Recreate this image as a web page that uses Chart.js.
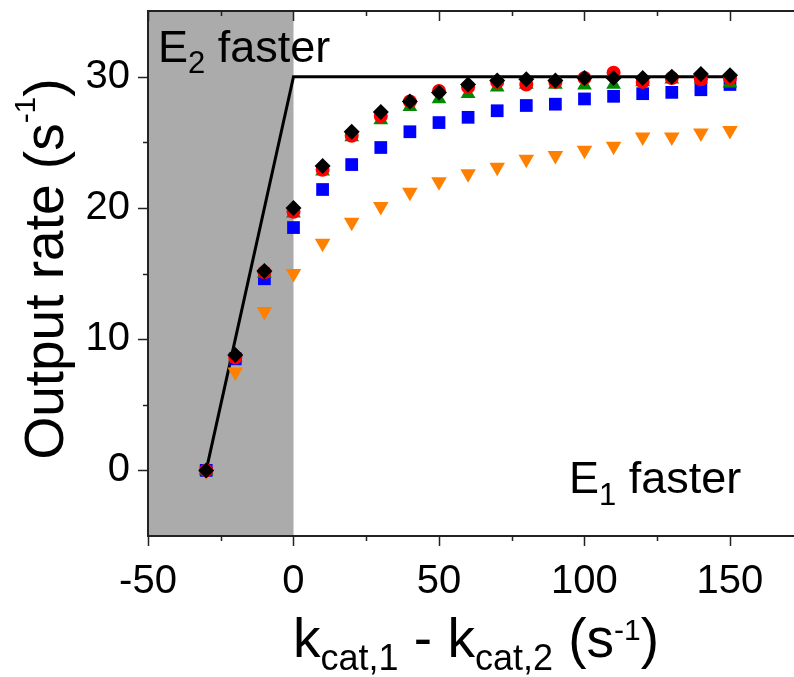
<!DOCTYPE html>
<html lang="en">
<head>
  <meta charset="UTF-8" />
  <title>Output rate vs kcat difference</title>
  <script src="https://cdn.jsdelivr.net/npm/chart.js"></script>
  <style>
    body { margin: 0; background: white; }
    #wrap { width: 794px; height: 677px; position: relative; }
  </style>
</head>
<body>
  <div id="wrap"><canvas id="chart"></canvas></div>

  <script>
    // x values: kcat,1 - kcat,2 (s^-1)
    const kDiff = [-30, -20, -10, 0, 10, 20, 30, 40, 50, 60, 70, 80, 90, 100, 110, 120, 130, 140, 150];

    // output rate (s^-1) for each series
    const rateRed    = [0, 8.6, 15.1, 19.7, 22.9, 25.5, 27.0, 28.1, 28.9, 29.2, 29.6, 29.4, 29.6, 29.9, 30.3, 29.6, 29.9, 29.8, 29.9];
    const rateGreen  = [0, 8.6, 15.0, 19.6, 22.8, 25.4, 26.7, 27.7, 28.3, 28.7, 29.2, 29.4, 29.4, 29.35, 29.4, 29.6, 29.8, 29.8, 29.5];
    const rateBlue   = [0, 8.5, 14.6, 18.5, 21.4, 23.3, 24.6, 25.8, 26.5, 26.9, 27.4, 27.8, 27.9, 28.3, 28.5, 28.7, 28.8, 29.0, 29.4];
    const rateOrange = [0, 7.5, 12.1, 15.0, 17.3, 18.9, 20.1, 21.2, 22.0, 22.6, 23.1, 23.7, 24.0, 24.4, 24.7, 25.4, 25.4, 25.7, 25.9];
    const rateBlack  = [0, 8.8, 15.2, 20.0, 23.2, 25.8, 27.3, 28.1, 28.8, 29.4, 29.7, 29.8, 29.7, 29.9, 29.9, 29.9, 30.0, 30.2, 30.1];

    // theoretical limit line
    const limitX = [-30, 0, 150];
    const limitY = [0, 30, 30];

    // shaded "E2 faster" region
    const shadeFrom = -50, shadeTo = 0;

    const xTicks = [-50, 0, 50, 100, 150];
    const xMinor = [-25, 25, 75, 125];
    const yTicks = [0, 10, 20, 30];
    const yMinor = [5, 15, 25];

    const FONT = '"Liberation Sans", Arial, sans-serif';

    function pts(ys) { return kDiff.map((k, i) => ({ x: k, y: ys[i] })); }

    // draws text pieces [text, size, dy] one after another, returns width
    function richText(ctx, parts, x, y, measureOnly) {
      let cx = x;
      parts.forEach(p => {
        ctx.font = p[1] + 'px ' + FONT;
        if (!measureOnly) ctx.fillText(p[0], cx, y + (p[2] || 0));
        cx += ctx.measureText(p[0]).width;
      });
      return cx - x;
    }

    const decor = {
      id: 'decor',
      beforeDatasetsDraw(chart) {
        const { ctx, chartArea: a, scales: { x } } = chart;
        const x0 = x.getPixelForValue(shadeFrom), x1 = x.getPixelForValue(shadeTo);
        ctx.save();
        ctx.fillStyle = '#ababab';
        ctx.fillRect(x0, a.top, x1 - x0, a.bottom - a.top);
        ctx.restore();
      },
      afterDatasetsDraw(chart) {
        const { ctx, chartArea: a, scales: { x, y } } = chart;
        ctx.save();
        ctx.strokeStyle = '#222';
        ctx.lineWidth = 2;
        ctx.beginPath();
        // frame: left, bottom, top
        ctx.moveTo(a.left, a.top); ctx.lineTo(a.left, a.bottom);
        ctx.moveTo(a.left - 1, a.bottom); ctx.lineTo(a.right, a.bottom);
        ctx.moveTo(a.left - 1, a.top); ctx.lineTo(a.right, a.top);
        ctx.stroke();

        ctx.lineWidth = 1.5;
        ctx.beginPath();
        xTicks.forEach(v => {
          const px = Math.round(x.getPixelForValue(v)) + 0.5;
          ctx.moveTo(px, a.bottom); ctx.lineTo(px, a.bottom + 10);
          ctx.moveTo(px, a.top); ctx.lineTo(px, a.top + 10);
        });
        xMinor.forEach(v => {
          const px = Math.round(x.getPixelForValue(v)) + 0.5;
          ctx.moveTo(px, a.bottom); ctx.lineTo(px, a.bottom + 5);
          ctx.moveTo(px, a.top); ctx.lineTo(px, a.top + 5);
        });
        yTicks.forEach(v => {
          const py = Math.round(y.getPixelForValue(v)) + 0.5;
          ctx.moveTo(a.left, py); ctx.lineTo(a.left - 10, py);
        });
        yMinor.forEach(v => {
          const py = Math.round(y.getPixelForValue(v)) + 0.5;
          ctx.moveTo(a.left, py); ctx.lineTo(a.left - 5, py);
        });
        ctx.stroke();

        ctx.fillStyle = '#000';
        ctx.textBaseline = 'alphabetic';
        ctx.textAlign = 'left';

        // annotations
        richText(ctx, [['E', 45], ['2', 31, 11], [' faster', 45]], a.left + 10, a.top + 51);
        richText(ctx, [['E', 45], ['1', 31, 12], [' faster', 45]], 569, 493);

        // x title
        const xt = [['k', 55], ['cat,1', 36, 13], [' - k', 55], ['cat,2', 36, 13], [' (s', 55], ['-1', 30, -17], [')', 55]];
        const xw = richText(ctx, xt, 0, 0, true);
        richText(ctx, xt, 476 - xw / 2, 657);

        // y title
        const yt = [['Output rate (s', 55], ['-1', 30, -28], [')', 55]];
        const yw = richText(ctx, yt, 0, 0, true);
        ctx.translate(63, 269);
        ctx.rotate(-Math.PI / 2);
        richText(ctx, yt, -yw / 2, 0);
        ctx.restore();
      }
    };

    const marker = (label, data, color, style, radius, order, rotation) => ({
      label, data: pts(data), order,
      showLine: false,
      pointStyle: style,
      pointRadius: radius,
      pointRotation: rotation || 0,
      pointBackgroundColor: color,
      pointBorderColor: color,
      pointBorderWidth: 0,
      backgroundColor: color,
      borderColor: color
    });

    new Chart(document.getElementById('chart').getContext('2d'), {
      type: 'scatter',
      data: {
        datasets: [
          marker('black', rateBlack, '#000000', 'rectRot', 8, 0),
          marker('red', rateRed, '#ff0000', 'circle', 7, 1),
          marker('green', rateGreen, '#008a00', 'triangle', 8.5, 2),
          marker('blue', rateBlue, '#0000ff', 'rect', 9, 3),
          marker('orange', rateOrange, '#ff8000', 'triangle', 9, 4, 180),
          {
            label: 'limit',
            data: limitX.map((v, i) => ({ x: v, y: limitY[i] })),
            order: 5,
            showLine: true,
            borderColor: '#000',
            borderWidth: 3,
            pointRadius: 0,
            tension: 0
          }
        ]
      },
      options: {
        animation: false,
        responsive: true,
        maintainAspectRatio: false,
        layout: { autoPadding: false, padding: { top: 11, right: 0, left: 0, bottom: 0 } },
        plugins: { legend: { display: false }, tooltip: { enabled: false } },
        scales: {
          x: {
            type: 'linear', min: -50, max: 172,
            grid: { display: false, drawTicks: false }, border: { display: false },
            afterBuildTicks: s => { s.ticks = xTicks.map(v => ({ value: v })); },
            afterFit: s => { s.height = 141; s.paddingLeft = 0; s.paddingRight = 0; },
            ticks: { color: '#000', padding: 22, maxRotation: 0, font: { size: 40, family: FONT } }
          },
          y: {
            type: 'linear', min: -5, max: 35,
            grid: { display: false, drawTicks: false }, border: { display: false },
            afterBuildTicks: s => { s.ticks = yTicks.map(v => ({ value: v })); },
            afterFit: s => { s.width = 148; s.paddingTop = 0; s.paddingBottom = 0; },
            ticks: { color: '#000', padding: 18, font: { size: 40, family: FONT } }
          }
        }
      },
      plugins: [decor]
    });
  </script>
</body>
</html>
